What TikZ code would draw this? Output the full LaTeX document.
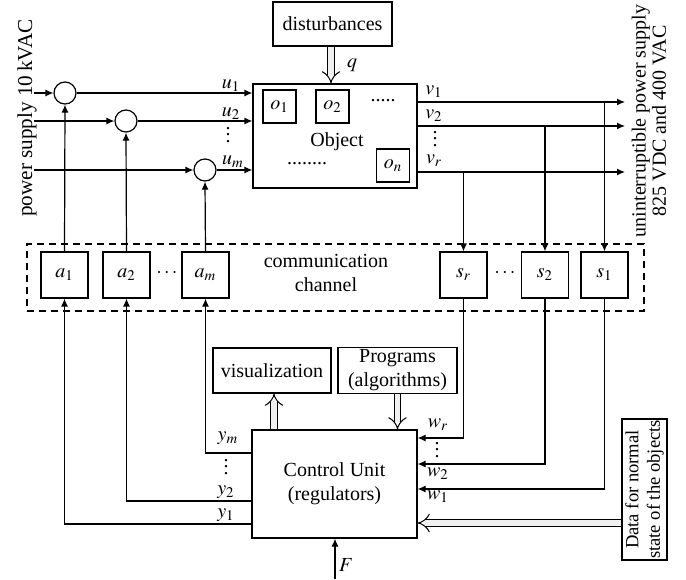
\documentclass[tikz,border=0pt]{standalone}
\usepackage{mathptmx}
\usepackage{fontspec}
\setmainfont{Liberation Serif}
\usetikzlibrary{arrows.meta,calc}
% compact vertical dots between signal labels
\newcommand{\vdts}{\vbox{\baselineskip=3.4pt\lineskiplimit=0pt\hbox{.}\hbox{.}\hbox{.}}}

\begin{document}
\begin{tikzpicture}[x=0.5pt, y=-0.5pt,
    every node/.style={font=\normalsize, align=center},
    blk/.style={draw, line width=0.6pt, inner sep=1pt},
    unit/.style={blk, minimum width=23.5pt, minimum height=23pt},
    sub/.style={blk, minimum width=16.5pt, minimum height=16.5pt},
    sum/.style={draw, circle, line width=0.6pt, minimum size=11pt, inner sep=0pt},
    arr/.style={-{Latex[length=4pt,width=3.5pt]}, line width=0.6pt},
    dbl/.style={double=gray!12, double distance=2.8pt, line width=0.5pt,
                -{Implies[length=2.2pt]}},
    lbl/.style={inner sep=0pt},
    vd/.style={inner sep=0pt, font=\normalsize}
  ]
  \useasboundingbox (0,0) rectangle (686,579);

  % ---- object with its disturbances ----------------------------------
  \node[blk, minimum width=59.5pt, minimum height=22pt] (dist) at (332.5,24) {disturbances};
  \node[blk, minimum width=82pt, minimum height=52pt] (obj) at (335,136) {};
  \node[sub] (o1) at (279.5,106.5) {$o_1$};
  \node[sub] (o2) at (332.5,106.5) {$o_2$};
  \node[sub] (on) at (393,165.5) {$o_n$};
  \node[lbl] (objtxt) at (337,142) {Object};
  \node[lbl] (dtop) at (383,101) {.....};
  \node[lbl] (dbot) at (307,164) {........};
  \draw[dbl] (dist.south -| 331,0) -- (obj.north -| 331,0);
  \node[lbl] (q) at (352,65) {$q$};

  % ---- summing points on the supply lines -----------------------------
  \node[sum] (c1) at (65,93) {};
  \node[sum] (c2) at (126,121) {};
  \node[sum] (c3) at (205,170) {};
  \coordinate (in1) at (34,93);
  \coordinate (in2) at (34,121);
  \coordinate (in3) at (34,170);
  \draw[arr] (in1) -- (c1);
  \draw[arr] (in2) -- (c2);
  \draw[arr] (in3) -- (c3);
  \draw[arr] (c1) -- (c1 -| obj.west);
  \draw[arr] (c2) -- (c2 -| obj.west);
  \draw[arr] (c3) -- (c3 -| obj.west);
  \node[lbl] (u1) at (231,86) {$u_1$};
  \node[lbl] (u2) at (231,114) {$u_2$};
  \node[vd] (ud) at (228,135) {\vdts};
  \node[lbl] (um) at (233,162) {$u_m$};
  \node[lbl, rotate=90, font=\fontsize{10.6}{12}\selectfont] (psup) at (27,118)
    {power supply 10\,kVAC};

  % ---- communication channel ------------------------------------------
  \node[draw, dash pattern=on 3.5pt off 2.5pt, line width=0.6pt,
        minimum width=308.5pt, minimum height=33.5pt] (chan) at (335.5,277.5) {};
  \node[unit] (a1) at (64.5,275) {$a_1$};
  \node[unit] (a2) at (126.5,275) {$a_2$};
  \node[unit] (am) at (205.5,275) {$a_m$};
  \node[unit] (sr) at (463.5,275) {$s_r$};
  \node[unit] (s2) at (545,275) {$s_2$};
  \node[unit] (s1) at (604.5,275) {$s_1$};
  \node[lbl] (adots) at (167,273) {$\cdots$};
  \node[lbl] (sdots) at (505,273) {$\cdots$};
  \node[lbl] (ctxt) at (326,273) {communication\\channel};
  \draw[arr] (a1.north) -- (c1.south);
  \draw[arr] (a2.north) -- (c2.south);
  \draw[arr] (am.north) -- (c3.south);

  % ---- object outputs --------------------------------------------------
  \coordinate (v1e) at (625,102);
  \coordinate (v2e) at (625,126);
  \coordinate (vre) at (625,172);
  \draw[arr] (obj.east |- v1e) -- (v1e);
  \draw[arr] (obj.east |- v2e) -- (v2e);
  \draw[arr] (obj.east |- vre) -- (vre);
  \draw[arr] (s1 |- v1e) -- (s1.north);
  \draw[arr] (s2 |- v2e) -- (s2.north);
  \draw[arr] (sr |- vre) -- (sr.north);
  \node[lbl] (v1) at (434,92) {$v_1$};
  \node[lbl] (v2) at (434,116) {$v_2$};
  \node[vd] (vd) at (435,139) {\vdts};
  \node[lbl] (vr) at (434,161) {$v_r$};
  \node[lbl, rotate=90, font=\fontsize{10}{8.5}\selectfont] (ups) at (649,121)
    {uninterruptible power supply\\825 VDC and 400 VAC};

  % ---- control unit ----------------------------------------------------
  \node[blk, minimum width=59pt, minimum height=22.5pt] (vis) at (272,370.5) {visualization};
  \node[blk, minimum width=59.5pt, minimum height=22.5pt] (prog) at (397.5,370.5)
    {Programs\\(algorithms)};
  \node[blk, minimum width=82.5pt, minimum height=54pt] (cu) at (334.5,484)
    {Control Unit\\(regulators)};
  \node[blk, rotate=90, inner sep=0.4pt, minimum width=70.5pt, minimum height=22.5pt,
        font=\fontsize{9.3}{10.8}\selectfont] (data) at (644.5,489.5)
    {Data for normal\\state of the objects};
  \draw[dbl] ([xshift=-30.25pt]cu.north) -- ([xshift=-30.25pt]cu.north |- vis.south);
  \draw[dbl] (prog.south) -- (prog.south |- cu.north);
  \draw[dbl] (data.north |- 0,523) -- (cu.east |- 0,523);

  \draw[arr] ([yshift=15.5pt]cu.west) -| (am.south);
  \draw[arr] ([yshift=-8.5pt]cu.west) -| (a2.south);
  \draw[arr] ([yshift=-20pt]cu.west) -| (a1.south);
  \node[lbl] (ym) at (228,438) {$y_m$};
  \node[vd] (yd) at (226,467) {\vdts};
  \node[lbl] (y2) at (226,492) {$y_2$};
  \node[lbl] (y1) at (226,515) {$y_1$};

  \draw[arr] (sr.south) |- ([yshift=23pt]cu.east);
  \draw[arr] (s2.south) |- ([yshift=10pt]cu.east);
  \draw[arr] (s1.south) |- ([yshift=-2.5pt]cu.east);
  \node[lbl] (wr) at (438,425) {$w_r$};
  \node[vd] (wd) at (437,450) {\vdts};
  \node[lbl] (w2) at (438,474) {$w_2$};
  \node[lbl] (w1) at (438,497) {$w_1$};

  \coordinate (fin) at (335,579);
  \draw[arr] (fin) -- (fin |- cu.south);
  \node[lbl] (F) at (346,565) {$F$};
\end{tikzpicture}
\end{document}
